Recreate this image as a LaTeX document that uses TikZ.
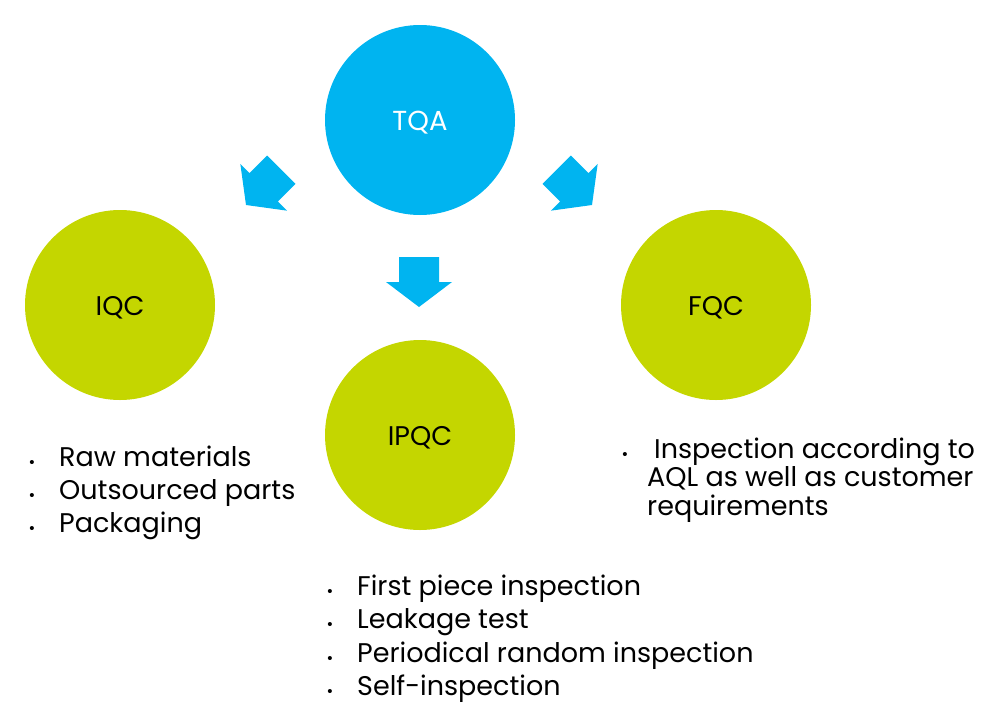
\documentclass[tikz,border=0pt]{standalone}
\usepackage{fontspec}
\setmainfont{Poppins}
\newfontfamily\bulfont{Liberation Sans}
\definecolor{tqacyan}{RGB}{0,180,240}
\definecolor{qcgreen}{RGB}{196,214,0}
\begin{document}
\begin{tikzpicture}[x=1pt,y=-1pt,
  qc/.style={circle, fill=qcgreen, minimum size=190pt, inner sep=0pt, text height=22pt, text depth=0.5pt, font=\fontsize{27}{32}\selectfont},
  top/.style={circle, fill=tqacyan, minimum size=190pt, inner sep=0pt, text height=22pt, text depth=0.5pt, text=white, font=\fontsize{27.5}{32}\selectfont},
  item/.style={anchor=base west, inner sep=0pt, font=\fontsize{27}{32}\selectfont},
  bul/.style={anchor=base, inner sep=0pt, font=\bulfont\fontsize{15}{16}\selectfont},
  blockarrow/.style={fill=tqacyan}
]
\useasboundingbox (0,0) rectangle (1000,720);
\node[top] (tqa) at (420,120) {TQA};
\node[qc] (iqc) at (120,305) {IQC};
\node[qc] (ipqc) at (420,435) {IPQC};
\node[qc] (fqc) at (716,305) {FQC};
% block arrows (tip at origin, pointing down)
\foreach \x/\y/\r in {419/307/0, 246/205/-45, 592/205/45}{
  \begin{scope}[shift={(\x,\y)}, rotate=\r]
    \fill[blockarrow] (0,0) -- (-33,-25) -- (-20,-25) -- (-20,-50) -- (20,-50) -- (20,-25) -- (33,-25) -- cycle;
  \end{scope}
}
% IQC list
\foreach \t [count=\i] in {Raw materials, Outsourced parts, Packaging}{
  \node[bul] (iqcb\i) at (32,{467+33*(\i-1)}) {•};
  \node[item] (iqct\i) at (59,{466+33*(\i-1)}) {\t};
}
% IPQC list
\foreach \t [count=\i] in {First piece inspection, Leakage test, Periodical random inspection, Self-inspection}{
  \node[bul] (ipqcb\i) at (330,{596+33.5*(\i-1)}) {•};
  \node[item] (ipqct\i) at (357,{595+33.5*(\i-1)}) {\t};
}
% FQC list
\node[bul] (fqcb) at (625,459) {•};
\node[item] (fqct1) at (654,458) {Inspection according to};
\node[item] (fqct2) at (647,486.5) {AQL as well as customer};
\node[item] (fqct3) at (647,515) {requirements};
\end{tikzpicture}
\end{document}
